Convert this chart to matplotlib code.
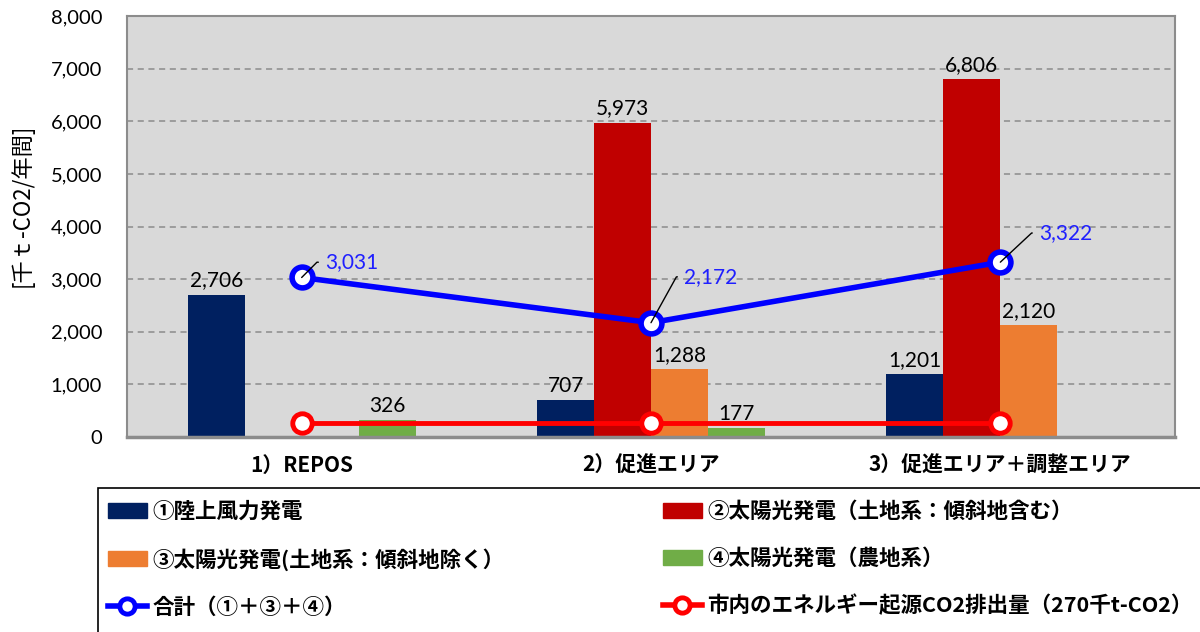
import matplotlib.pyplot as plt
import numpy as np
from matplotlib.patches import Patch, Rectangle
from matplotlib.lines import Line2D

plt.rcParams['font.family'] = ['Lato', 'Noto Sans CJK JP', 'DejaVu Sans']

categories = ['1）REPOS', '2）促進エリア', '3）促進エリア＋調整エリア']
wind = [2706, 707, 1201]          # ①陸上風力発電
solar_slope = [0, 5973, 6806]     # ②太陽光発電（土地系：傾斜地含む）
solar_flat = [0, 1288, 2120]      # ③太陽光発電(土地系：傾斜地除く）
solar_farm = [326, 177, 0]        # ④太陽光発電（農地系）
total = [3031, 2172, 3322]        # 合計（①＋③＋④）
city_emission = [270, 270, 270]   # 市内のエネルギー起源CO2排出量

series = [
    (wind, '#002060', '①陸上風力発電'),
    (solar_slope, '#c00000', '②太陽光発電（土地系：傾斜地含む）'),
    (solar_flat, '#ed7d31', '③太陽光発電(土地系：傾斜地除く）'),
    (solar_farm, '#70ad47', '④太陽光発電（農地系）'),
]

jp = ['Noto Sans CJK JP', 'DejaVu Sans']

fig = plt.figure(figsize=(12, 6.32), dpi=100)
ax = fig.add_axes([127 / 1200, 1 - 437 / 632, 1048 / 1200, 421 / 632])
ax.set_facecolor('#d9d9d9')

x = np.arange(len(categories))
w = 0.163
for i, (vals, col, lab) in enumerate(series):
    bars = ax.bar(x + (i - 1.5) * w, vals, w, color=col, zorder=2)
    ax.bar_label(bars, labels=[f'{v:,}' if v > 0 else '' for v in vals],
                 padding=3, fontsize=15, color='black', zorder=5)

ax.plot(x, city_emission, color='#ff0000', lw=3.5, marker='o', ms=14,
        mfc='white', mec='#ff0000', mew=3.5, zorder=4)
ax.plot(x, total, color='#0000ff', lw=4, marker='o', ms=15,
        mfc='white', mec='#0000ff', mew=4, zorder=4)

# leader lines for the total labels
offsets = [(17, 11), (24, 33), (28, 21)]
for xi, v, (dx, dy) in zip(x, total, offsets):
    ax.annotate(f'{v:,}', (xi, v), xytext=(dx, dy), textcoords='offset points',
                ha='left', va='center', fontsize=15, color='#1f1fff', zorder=6,
                arrowprops=dict(arrowstyle='-', color='black', lw=1,
                                connectionstyle='angle,angleA=0,angleB=%d' %
                                int(np.degrees(np.arctan2(dy, dx - 6))),
                                shrinkA=3, shrinkB=0, relpos=(0, 0.5)))

ax.set_xlim(-0.5, 2.5)
ax.set_ylim(0, 8000)
ax.set_yticks(np.arange(0, 8001, 1000))
ax.yaxis.set_major_formatter(plt.FuncFormatter(lambda v, p: f'{int(v):,}'))
ax.tick_params(axis='y', length=0, pad=18, labelsize=14.5)
ax.set_xticks(x)
ax.set_xticklabels(categories, fontsize=15, fontweight='bold', family=jp)
ax.tick_params(axis='x', length=0, pad=13)
ax.grid(axis='y', color='#8c8c8c', linestyle=(0, (4, 3)), lw=1.1, zorder=1)
for s in ['left', 'top', 'right']:
    ax.spines[s].set_color('#8c8c8c')
    ax.spines[s].set_linewidth(1.5)
ax.spines['bottom'].set_color('#8c8c8c')
ax.spines['bottom'].set_linewidth(2.5)

fig.text(22 / 1200, 1 - 205 / 632, '[千ｔ-CO2/年間]', rotation=90,
         ha='center', va='center', fontsize=16, family=jp)

# legend box
fig.patches.append(Rectangle((98 / 1200, -0.02), 1.2, 1 - 488 / 632 + 0.02,
                             transform=fig.transFigure, fill=False,
                             edgecolor='black', lw=1.2, zorder=0))

line_total = Line2D([], [], color='#0000ff', lw=4, marker='o', ms=11,
                    mfc='white', mec='#0000ff', mew=3.5)
line_city = Line2D([], [], color='#ff0000', lw=4, marker='o', ms=11,
                   mfc='white', mec='#ff0000', mew=3.5)
patches = [Patch(color=c) for _, c, _ in series]

left_h = [patches[0], patches[2], line_total]
left_l = [series[0][2], series[2][2], '合計（①＋③＋④）']
right_h = [patches[1], patches[3], line_city]
right_l = [series[1][2], series[3][2], '市内のエネルギー起源CO2排出量（270千t-CO2）']

for hs, ls, x0 in [(left_h, left_l, 108), (right_h, right_l, 663)]:
    fig.legend(hs, ls, loc='upper left', bbox_to_anchor=(x0 / 1200, 1 - 501 / 632),
               frameon=False, borderpad=0, borderaxespad=0, handlelength=1.8,
               handletextpad=0.25, labelspacing=1.2,
               prop={'family': jp, 'weight': 'bold', 'size': 15.5})

fig.savefig('out.png', dpi=100)
